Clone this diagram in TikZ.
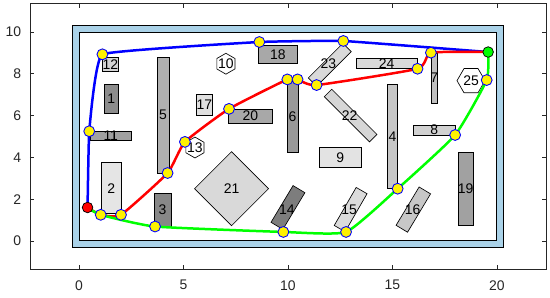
\documentclass[tikz,border=0pt]{standalone}
\usepackage{fontspec}
\setmainfont{Liberation Sans}
\usetikzlibrary{positioning,calc}
\definecolor{wandblau}{RGB}{170,210,232}

\begin{document}
\begin{tikzpicture}[x=0.5cm, y=0.5cm,
      every node/.style={font=\fontsize{9.5}{11}\selectfont, anchor=center, inner sep=1pt},
      achse/.style={draw=black!85, line width=0.5pt},
      hindernis/.style={draw=black, line width=0.45pt},
      sechseck/.style={draw=black, fill=white, line width=0.45pt},
      pfad/.style={line width=1.7pt, line join=round, line cap=round},
      wegpunkt/.style={draw=blue, fill=yellow, line width=0.6pt},
      endpunkt/.style={draw=black, line width=0.5pt}
    ]
  \useasboundingbox (-3.78,-2.73) rectangle (22.54,11.53);

  % --- Achsen mit Teilstrichen ---
  \draw[achse] (-2.35,-1.35) rectangle (22.35,11.35);
  \foreach \x in {0,5,...,20} {
    \draw[achse] (\x,-1.35) -- ++(0,0.2);
    \draw[achse] (\x,11.35) -- ++(0,-0.2);
    \node[text=black!85] (tx\x) at (\x,-2.12) {\x};
  }
  \foreach \y in {0,2,...,10} {
    \draw[achse] (-2.35,\y) -- ++(0.2,0);
    \draw[achse] (22.35,\y) -- ++(-0.2,0);
    \node[text=black!85, anchor=east] (ty\y) at (-2.68,\y) {\y};
  }

  % --- Wand ---
  \draw[fill=wandblau, line width=0.6pt] (-0.3,-0.3) rectangle (20.3,10.3);
  \draw[fill=white, line width=0.6pt] (0,0) rectangle (20,10);

  % --- Hindernisse (achsenparallel) ---
  \draw[hindernis, fill=black!45] (1.2,6.1) rectangle (1.9,7.5);
  \node (h1) at (1.55,6.8) {1};
  \draw[hindernis, fill=black!10] (1.05,1.3) rectangle (2.05,3.75);
  \node (h2) at (1.55,2.52) {2};
  \draw[hindernis, fill=black!47] (3.6,0.7) rectangle (4.4,2.3);
  \node (h3) at (4.0,1.5) {3};
  \draw[hindernis, fill=black!22] (14.75,2.5) rectangle (15.25,7.5);
  \node (h4) at (15.0,5.0) {4};
  \draw[hindernis, fill=black!31] (3.75,3.25) rectangle (4.3,8.8);
  \node (h5) at (4.02,6.02) {5};
  \draw[hindernis, fill=black!40] (9.95,4.25) rectangle (10.5,7.65);
  \node (h6) at (10.22,5.95) {6};
  \draw[hindernis, fill=black!25] (16.85,6.6) rectangle (17.15,9.0);
  \node (h7) at (17.0,7.8) {7};
  \draw[hindernis, fill=black!18] (16,5.05) rectangle (18,5.55);
  \node (h8) at (17.0,5.3) {8};
  \draw[hindernis, fill=black!11] (11.5,3.5) rectangle (13.5,4.5);
  \node (h9) at (12.5,4.0) {9};
  \draw[hindernis, fill=black!37] (0.55,4.8) rectangle (1.7,5.25);
  \draw[hindernis, fill=black!37] (1.7,4.8) rectangle (2.5,5.25);
  \node (h11) at (1.52,5.02) {11};
  \draw[hindernis, fill=black!17] (1.1,8.1) rectangle (1.9,8.8);
  \node (h12) at (1.5,8.45) {12};
  \draw[hindernis, fill=black!12] (5.6,6.0) rectangle (6.4,7.0);
  \node (h17) at (6.0,6.5) {17};
  \draw[hindernis, fill=black!34] (8.6,8.5) rectangle (10.45,9.35);
  \node (h18) at (9.52,8.92) {18};
  \draw[hindernis, fill=black!37] (18.15,0.75) rectangle (18.85,4.25);
  \node (h19) at (18.5,2.5) {19};
  \draw[hindernis, fill=black!34] (7.15,5.65) rectangle (9.25,6.3);
  \node (h20) at (8.2,5.97) {20};
  \draw[hindernis, fill=black!15] (13.25,8.25) rectangle (16.2,8.75);
  \node (h24) at (14.72,8.5) {24};

  % --- Hindernisse (gedreht) ---
  \draw[hindernis, fill=black!51, shift={(10,1.6)}, rotate=59] (-1.025,-0.33) rectangle (1.025,0.33);
  \node (h14) at (9.95,1.5) {14};
  \draw[hindernis, fill=black!14, shift={(13,1.5)}, rotate=60] (-1.05,-0.3) rectangle (1.05,0.3);
  \node (h15) at (12.93,1.5) {15};
  \draw[hindernis, fill=black!22, shift={(16,1.5)}, rotate=59] (-1.07,-0.32) rectangle (1.07,0.32);
  \node (h16) at (15.97,1.5) {16};
  \draw[hindernis, fill=black!15] (7.3,0.73) -- (9.07,2.5) -- (7.3,4.27) -- (5.53,2.5) -- cycle;
  \node (h21) at (7.3,2.5) {21};
  \draw[hindernis, fill=black!16, shift={(13,6.0)}, rotate=-45] (-1.53,-0.25) rectangle (1.53,0.25);
  \node (h22) at (12.95,6.0) {22};
  \draw[hindernis, fill=black!15, shift={(12,8.43)}, rotate=45] (-1.17,-0.28) rectangle (1.17,0.28);
  \node (h23) at (11.93,8.48) {23};

  % --- Sechsecke ---
  \draw[sechseck, shift={(7.03,8.48)}] (90:0.5) -- (150:0.5) -- (210:0.5) -- (270:0.5) -- (330:0.5) -- (30:0.5) -- cycle;
  \node (h10) at (7.03,8.48) {10};
  \draw[sechseck, shift={(5.55,4.47)}] (90:0.5) -- (150:0.5) -- (210:0.5) -- (270:0.5) -- (330:0.5) -- (30:0.5) -- cycle;
  \node (h13) at (5.55,4.47) {13};
  \draw[sechseck, shift={(18.76,7.67)}] (0:0.67) -- (60:0.67) -- (120:0.67) -- (180:0.67) -- (240:0.67) -- (300:0.67) -- cycle;
  \node (h25) at (18.76,7.67) {25};

  % --- Wegpunkte ---
  \coordinate (start) at (0.41,1.6);
  \coordinate (ziel)  at (19.58,9.04);
  \coordinate (b1) at (0.49,5.25);
  \coordinate (b2) at (1.12,8.93);
  \coordinate (b3) at (8.63,9.52);
  \coordinate (b4) at (12.65,9.57);
  \coordinate (r1) at (1.04,1.25);
  \coordinate (r2) at (2.01,1.25);
  \coordinate (r3) at (4.24,3.25);
  \coordinate (r4) at (5.07,4.74);
  \coordinate (r5) at (7.18,6.32);
  \coordinate (r6) at (9.97,7.73);
  \coordinate (r7) at (10.46,7.73);
  \coordinate (r8) at (11.37,7.46);
  \coordinate (r9) at (16.2,8.24);
  \coordinate (r10) at (16.84,9.01);
  \coordinate (g2) at (3.64,0.69);
  \coordinate (g3) at (9.78,0.43);
  \coordinate (g4) at (12.78,0.43);
  \coordinate (g5) at (15.25,2.5);
  \coordinate (g6) at (18.0,5.07);
  \coordinate (g7) at (19.51,7.7);

  % --- Pfade ---
  \draw[pfad, blue] plot[smooth, tension=0.15] coordinates {(start) (b1) (b2) (b3) (b4) (ziel)};
  \draw[pfad, red] plot[smooth, tension=0.28] coordinates {(start) (r1) (r2) (r3) (r4) (r5) (r6) (r7) (r8) (r9) (r10) (ziel)};
  \draw[pfad, green] plot[smooth, tension=0.28] coordinates {(start) (r1) (g2) (g3) (g4) (g5) (g6) (g7) (ziel)};

  \foreach \p in {b1,b2,b3,b4,r1,r2,r3,r4,r5,r6,r7,r8,r9,r10,g2,g3,g4,g5,g6,g7}
    {\filldraw[wegpunkt] (\p) circle (3.7pt);}
  \filldraw[endpunkt, fill=red] (start) circle (3.6pt);
  \filldraw[endpunkt, fill=green] (ziel) circle (3.6pt);
\end{tikzpicture}
\end{document}
